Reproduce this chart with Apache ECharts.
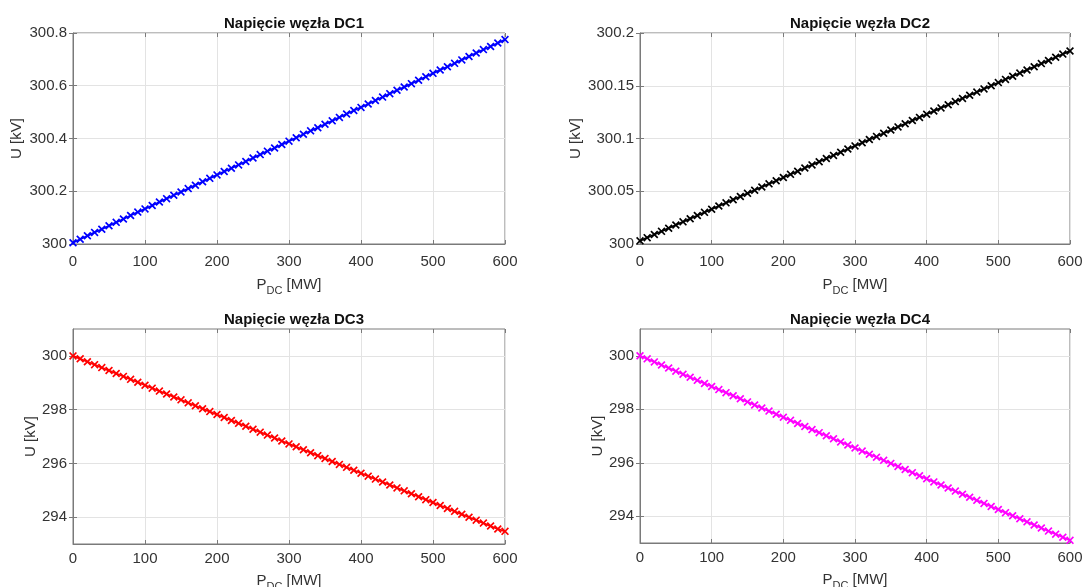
<!DOCTYPE html>
<html><head><meta charset="utf-8">
<script src="https://cdn.jsdelivr.net/npm/echarts@6/dist/echarts.min.js"></script>
<style>html,body{margin:0;padding:0;background:#fff}#c{width:1085px;height:587px}</style>
</head><body><div id="c"></div>
<script>
const P_MW = [0,10,20,30,40,50,60,70,80,90,100,110,120,130,140,150,160,170,180,190,200,210,220,230,240,250,260,270,280,290,300,310,320,330,340,350,360,370,380,390,400,410,420,430,440,450,460,470,480,490,500,510,520,530,540,550,560,570,580,590,600];
const U_DC1 = [300.005,300.018,300.031,300.044,300.056,300.069,300.082,300.095,300.108,300.121,300.133,300.146,300.159,300.172,300.185,300.197,300.210,300.223,300.236,300.249,300.262,300.275,300.287,300.300,300.313,300.326,300.339,300.352,300.364,300.377,300.390,300.403,300.416,300.429,300.441,300.454,300.467,300.480,300.493,300.506,300.518,300.531,300.544,300.557,300.570,300.583,300.595,300.608,300.621,300.634,300.647,300.660,300.672,300.685,300.698,300.711,300.724,300.737,300.749,300.762,300.775];
const U_DC2 = [300.003,300.006,300.009,300.012,300.015,300.018,300.021,300.024,300.027,300.030,300.033,300.036,300.039,300.042,300.045,300.048,300.051,300.054,300.057,300.060,300.063,300.066,300.069,300.072,300.075,300.078,300.081,300.084,300.087,300.090,300.093,300.096,300.099,300.102,300.105,300.108,300.111,300.114,300.117,300.120,300.123,300.126,300.129,300.132,300.135,300.138,300.141,300.144,300.147,300.150,300.153,300.156,300.159,300.162,300.165,300.168,300.171,300.174,300.177,300.180,300.183];
const U_DC3 = [300.000,299.891,299.782,299.673,299.563,299.454,299.345,299.236,299.127,299.018,298.908,298.799,298.690,298.581,298.472,298.363,298.253,298.144,298.035,297.926,297.817,297.708,297.598,297.489,297.380,297.271,297.162,297.053,296.943,296.834,296.725,296.616,296.507,296.398,296.288,296.179,296.070,295.961,295.852,295.743,295.633,295.524,295.415,295.306,295.197,295.088,294.978,294.869,294.760,294.651,294.542,294.433,294.323,294.214,294.105,293.996,293.887,293.778,293.668,293.559,293.470];
const U_DC4 = [300.000,299.885,299.770,299.655,299.540,299.425,299.310,299.195,299.080,298.965,298.850,298.735,298.620,298.505,298.390,298.275,298.160,298.045,297.930,297.815,297.700,297.585,297.470,297.355,297.240,297.125,297.010,296.895,296.780,296.665,296.550,296.435,296.320,296.205,296.090,295.975,295.860,295.745,295.630,295.515,295.400,295.285,295.170,295.055,294.940,294.825,294.710,294.595,294.480,294.365,294.250,294.135,294.020,293.905,293.790,293.675,293.560,293.445,293.330,293.215,293.100];

const titles = ['Napięcie węzła DC1','Napięcie węzła DC2','Napięcie węzła DC3','Napięcie węzła DC4'];
const yTicks1 = [300,300.2,300.4,300.6,300.8];
const yTicks2 = [300,300.05,300.1,300.15,300.2];
const yTicks34 = [294,296,298,300];
const yRanges = [[300,300.8],[300,300.2],[293,301],[293,301]];
const yTickSets = [yTicks1,yTicks2,yTicks34,yTicks34];
const seriesData = [U_DC1,U_DC2,U_DC3,U_DC4];
const colors = ['#0000ff','#000000','#ff0000','#ff00ff'];
const yLabel = 'U [kV]';

const grids = [
  {left:73, top:33, width:432, height:211},
  {left:640, top:33, width:430, height:211},
  {left:73, top:329, width:432, height:215},
  {left:640, top:329, width:430, height:214}
];
const yNameGaps = [49, 57, 34, 35];
const xLabelMargins = [10, 10, 7, 7];
const xNameGaps = [30, 30, 26, 26];

const FONT = 'Liberation Sans, Arial, sans-serif';
const txt = '#333333';
const axisCol = '#7a7a7a';
const gridCol = '#e3e3e3';
const xMark = 'path://M0,1.5L1.5,0L5,3.5L8.5,0L10,1.5L6.5,5L10,8.5L8.5,10L5,6.5L1.5,10L0,8.5L3.5,5Z';

const option = {
  backgroundColor:'#fff',
  animation:false,
  title: grids.map((g,i)=>({
    text: titles[i], left: g.left + g.width/2, top: g.top - 22, textAlign:'center',
    textStyle:{fontFamily:FONT, fontSize:15, fontWeight:'bold', color:'#111'}
  })),
  grid: grids.map(g=>Object.assign({show:true, borderColor:axisCol, borderWidth:1, backgroundColor:'transparent', containLabel:false, outerBoundsMode:'none'}, g)),
  xAxis: [], yAxis: [], series: []
};

grids.forEach((g,i)=>{
  const ticks = yTickSets[i];
  option.xAxis.push({
    type:'value', gridIndex:i, min:0, max:600, interval:100, position:'bottom',
    name:'{a|P}{b|DC}{a| [MW]}', nameLocation:'middle', nameGap:xNameGaps[i],
    nameTextStyle:{rich:{a:{fontFamily:FONT,fontSize:15,color:txt,lineHeight:22,verticalAlign:'middle'},
                         b:{fontFamily:FONT,fontSize:11,color:txt,lineHeight:22,verticalAlign:'bottom',padding:[14,0,0,0]}}},
    axisLine:{show:true,onZero:false,lineStyle:{color:axisCol,width:1}},
    axisTick:{show:true,inside:true,length:4,lineStyle:{color:axisCol}},
    axisLabel:{fontFamily:FONT,fontSize:15,color:txt,margin:xLabelMargins[i]},
    splitLine:{show:true,lineStyle:{color:gridCol,width:1}}
  });
  option.xAxis.push({
    type:'value', gridIndex:i, min:0, max:600, interval:100, position:'top',
    axisLine:{show:false}, axisTick:{show:true,inside:true,length:4,lineStyle:{color:axisCol}},
    axisLabel:{show:false}, splitLine:{show:false}
  });
  option.yAxis.push({
    type:'value', gridIndex:i, min:yRanges[i][0], max:yRanges[i][1], position:'left',
    name:yLabel, nameLocation:'middle', nameGap:yNameGaps[i], nameRotate:90,
    nameTextStyle:{fontFamily:FONT,fontSize:15,color:txt},
    axisLine:{show:true,onZero:false,lineStyle:{color:axisCol,width:1}},
    axisTick:{show:true,inside:true,length:4,customValues:ticks,lineStyle:{color:axisCol}},
    axisLabel:{fontFamily:FONT,fontSize:15,color:txt,margin:6,customValues:ticks},
    splitLine:{show:true,lineStyle:{color:gridCol,width:1}}
  });
  option.yAxis.push({
    type:'value', gridIndex:i, min:yRanges[i][0], max:yRanges[i][1], position:'right',
    axisLine:{show:false},
    axisTick:{show:true,inside:true,length:4,customValues:ticks,lineStyle:{color:axisCol}},
    axisLabel:{show:false,customValues:ticks}, splitLine:{show:false}
  });
  option.series.push({
    type:'line', xAxisIndex:2*i, yAxisIndex:2*i,
    data: P_MW.map((p,k)=>[p, seriesData[i][k]]),
    lineStyle:{color:colors[i],width:1.8},
    itemStyle:{color:colors[i]},
    symbol:xMark, symbolSize:8, showSymbol:true, clip:false,
    emphasis:{disabled:true}
  });
});

const chart = echarts.init(document.getElementById('c'), null, {renderer:'canvas'});
chart.setOption(option);
</script>
</body></html>
